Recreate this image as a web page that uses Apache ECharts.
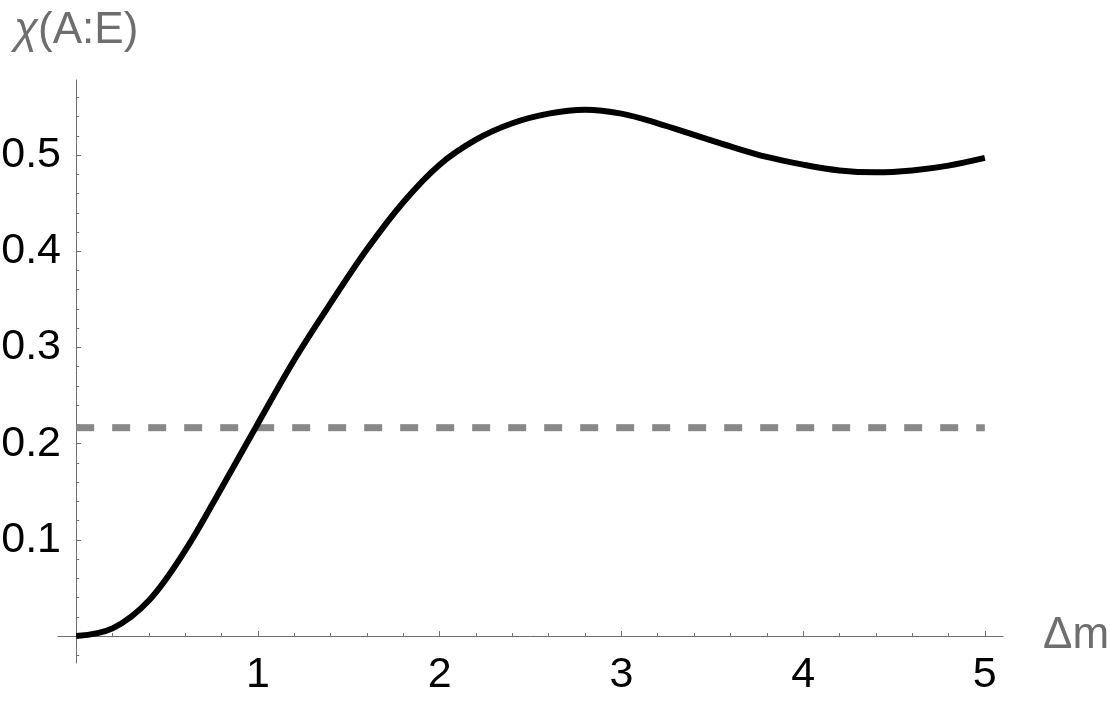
<!DOCTYPE html>
<html>
<head>
<meta charset="utf-8">
<script src="https://cdn.jsdelivr.net/npm/echarts@6/dist/echarts.min.js"></script>
<style>
  html, body { margin: 0; padding: 0; background: #fff; }
  #chart { width: 1110px; height: 701px; }
</style>
</head>
<body>
<div id="chart"></div>
<script>
// 曲线数据 (Δm, χ)
const deltaM = [0, 0.2, 0.4, 0.6, 0.8, 1.0, 1.2, 1.4, 1.6, 1.8, 2.0, 2.2, 2.4, 2.6, 2.8, 3.0, 3.2, 3.4, 3.6, 3.8, 4.0, 4.2, 4.4, 4.6, 4.8, 5.0];
const chiAE = [0, 0.008, 0.037, 0.089, 0.154, 0.221, 0.287, 0.346, 0.402, 0.451, 0.490, 0.516, 0.533, 0.543, 0.547, 0.543, 0.533, 0.521, 0.509, 0.498, 0.490, 0.484, 0.482, 0.484, 0.489, 0.497];
// 虚线 (水平参考线)
const refX = [0, 5];
const refY = [0.2166, 0.2166];
// 刻度
const xLabels = [1, 2, 3, 4, 5];
const xMajor = [0, 1, 2, 3, 4, 5];
const xMinor = [0.2, 0.4, 0.6, 0.8, 1.2, 1.4, 1.6, 1.8, 2.2, 2.4, 2.6, 2.8, 3.2, 3.4, 3.6, 3.8, 4.2, 4.4, 4.6, 4.8];
const yLabels = [0.1, 0.2, 0.3, 0.4, 0.5];
const yMajor = [0, 0.1, 0.2, 0.3, 0.4, 0.5];
const yMinor = [-0.02, 0.02, 0.04, 0.06, 0.08, 0.12, 0.14, 0.16, 0.18, 0.22, 0.24, 0.26, 0.28, 0.32, 0.34, 0.36, 0.38, 0.42, 0.44, 0.46, 0.48, 0.52, 0.54, 0.56];

const axisGray = '#6e6e6e';
const font = '"Liberation Sans", Arial, sans-serif';

function drawChart() {
  let myChart = echarts.init(document.getElementById('chart'));
  myChart.setOption({
    animation: false,
    // 坐标轴在零点交叉，标签相对 grid 边缘定位
    grid: { left: 58, right: 107, top: 80, bottom: 38, outerBoundsMode: 'none', containLabel: false },
    xAxis: [
      {
        type: 'value',
        min: -0.1,
        max: 5.1,
        name: 'Δm',
        nameLocation: 'end',
        nameGap: 40,
        nameTextStyle: { color: axisGray, fontSize: 44, fontFamily: font },
        axisLine: { onZero: true, lineStyle: { color: axisGray, width: 1 } },
        axisTick: { inside: true, length: 5, customValues: xMajor, lineStyle: { color: axisGray } },
        axisLabel: { customValues: xLabels, color: '#000', fontSize: 43, fontFamily: font, margin: -9 },
        splitLine: { show: false }
      },
      {
        // 次刻度
        type: 'value',
        min: -0.1,
        max: 5.1,
        position: 'bottom',
        axisLine: { show: false, onZero: true },
        axisTick: { inside: true, length: 3, customValues: xMinor, lineStyle: { color: axisGray } },
        axisLabel: { show: false },
        splitLine: { show: false }
      }
    ],
    yAxis: [
      {
        type: 'value',
        min: -0.028,
        max: 0.578,
        name: '{i|χ}(A:E)',
        nameLocation: 'end',
        nameGap: 27,
        nameTextStyle: {
          color: axisGray, fontSize: 44, fontFamily: font,
          rich: { i: { fontStyle: 'italic', fontSize: 44, color: axisGray, fontFamily: font } }
        },
        axisLine: { onZero: true, lineStyle: { color: axisGray, width: 1 } },
        axisTick: { inside: true, length: 5, customValues: yMajor, lineStyle: { color: axisGray } },
        axisLabel: {
          customValues: yLabels, color: '#000', fontSize: 43, fontFamily: font, margin: -3,
          formatter: v => v.toFixed(1)
        },
        splitLine: { show: false }
      },
      {
        type: 'value',
        min: -0.028,
        max: 0.578,
        position: 'left',
        axisLine: { show: false, onZero: true },
        axisTick: { inside: true, length: 3, customValues: yMinor, lineStyle: { color: axisGray } },
        axisLabel: { show: false },
        splitLine: { show: false }
      }
    ],
    series: [
      {
        name: 'threshold',
        type: 'line',
        showSymbol: false,
        data: refX.map((x, i) => [x, refY[i]]),
        lineStyle: { color: '#888888', width: 7, type: [18, 18], cap: 'butt' },
        z: 2
      },
      {
        name: 'chi',
        type: 'line',
        smooth: 0.35,
        showSymbol: false,
        data: deltaM.map((x, i) => [x, chiAE[i]]),
        lineStyle: { color: '#000', width: 6 },
        z: 3
      }
    ]
  });
}
drawChart();
</script>
</body>
</html>
